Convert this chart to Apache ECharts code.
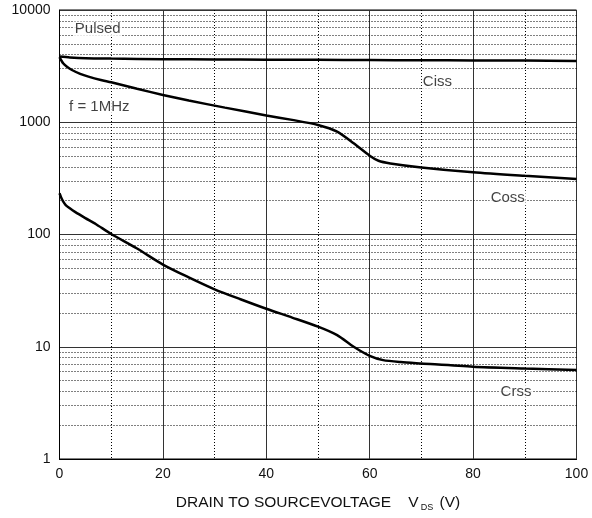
<!DOCTYPE html>
<html><head><meta charset="utf-8">
<script src="https://cdn.jsdelivr.net/npm/echarts@6/dist/echarts.min.js"></script>
<style>html,body{margin:0;padding:0;background:#fff}#c{width:592px;height:518px}</style>
</head><body><div id="c"></div>
<script>
// Data
const cissV = [0, 2, 5, 10, 20, 30, 40, 50, 60, 70, 80, 90, 100];
const cissC = [3850, 3780, 3720, 3690, 3650, 3630, 3610, 3600, 3580, 3570, 3550, 3540, 3520];
const cossV = [0, 0.7, 1.5, 2.4, 4, 5.6, 8, 10, 15, 20, 25, 32, 40, 45, 50, 53.7, 56.9, 60, 61.7, 64, 70, 80, 90, 100];
const cossC = [3800, 3350, 3100, 2920, 2700, 2550, 2380, 2270, 1990, 1750, 1560, 1350, 1150, 1050, 946, 825, 649, 503, 454, 430, 396, 358, 333, 312];
const crssV = [0, 0.3, 0.7, 1.2, 2, 3, 5, 7, 10, 15, 20, 25, 30, 35, 40, 45, 50, 53.7, 56.9, 60, 62.6, 66, 70, 80, 90, 100];
const crssC = [233, 215, 197, 183, 171, 159, 140, 124, 101, 75, 54, 41.5, 32.5, 26.5, 21.8, 18.2, 15.1, 12.7, 10, 8.3, 7.6, 7.3, 7.1, 6.64, 6.4, 6.2];
const yMinorGrid = [2,3,4,5,6,7,8,9,20,30,40,50,60,70,80,90,200,300,400,500,600,700,800,900,2000,3000,4000,5000,6000,7000,8000,9000];
const annText = ['Pulsed', 'f = 1MHz', 'Ciss', 'Coss', 'Crss'];
const annX = [7.4, 7.7, 73.1, 86.7, 88.3];
const annY = [6780, 1368, 2285, 211, 3.95];

const pairs = (xs, ys) => xs.map((x, i) => [x, ys[i]]);
const FONT = 'Liberation Sans, Arial, Helvetica, sans-serif';
const curve = (name, xs, ys) => ({
  name, type: 'line', data: pairs(xs, ys), showSymbol: false, symbol: 'none',
  smooth: 0.25, z: 5, silent: true,
  lineStyle: { color: '#000', width: 2.5 }
});

const chart = echarts.init(document.getElementById('c'), null, { renderer: 'canvas' });
chart.setOption({
  animation: false,
  backgroundColor: '#fff',
  textStyle: { fontFamily: FONT },
  grid: { left: 59.5, right: 15.5, top: 10, bottom: 59, show: true, borderColor: '#000', borderWidth: 1,
          containLabel: false, outerBoundsMode: 'none' },
  xAxis: {
    type: 'value', min: 0, max: 100, interval: 20,
    axisLine: { show: true, lineStyle: { color: '#000', width: 1 } },
    axisTick: { show: false },
    axisLabel: { color: '#111', fontSize: 14, margin: 8, fontFamily: FONT },
    splitLine: { show: true, lineStyle: { color: '#333', width: 1 } },
    minorTick: { show: false, splitNumber: 2 },
    minorSplitLine: { show: true, lineStyle: { color: '#000', width: 1, type: [1, 2] } },
    name: '{a|DRAIN TO SOURCEVOLTAGE    V}{s|DS}{a| (V)}',
    nameLocation: 'middle', nameGap: 34,
    nameTextStyle: {
      color: '#111', fontFamily: FONT,
      rich: {
        a: { fontSize: 15.5, color: '#111', fontFamily: FONT, lineHeight: 20 },
        s: { fontSize: 9, color: '#111', fontFamily: FONT, padding: [9, 2, 0, 2], lineHeight: 20 }
      }
    }
  },
  yAxis: {
    type: 'log', logBase: 10, min: 1, max: 10000,
    axisLine: { show: true, lineStyle: { color: '#000', width: 1 } },
    axisTick: { show: false },
    axisLabel: { color: '#111', fontSize: 14, margin: 9, fontFamily: FONT, formatter: v => String(v) },
    splitLine: { show: true, lineStyle: { color: '#333', width: 1 } },
    minorTick: { show: false },
    minorSplitLine: { show: false },
    name: 'CAPACITANCE       C (pF)',
    nameLocation: 'middle', nameGap: 34,
    nameTextStyle: { color: '#111', fontSize: 15, fontFamily: FONT }
  },
  series: [
    {
      name: 'minorGrid', type: 'line', data: [[0, 1]], symbol: 'none', silent: true, z: 1,
      lineStyle: { opacity: 0 },
      markLine: {
        silent: true, symbol: ['none', 'none'], animation: false,
        label: { show: false },
        lineStyle: { color: '#000', width: 1, type: [1, 2] },
        emphasis: { disabled: true },
        data: yMinorGrid.map(v => ({ yAxis: v }))
      }
    },
    curve('Ciss', cissV, cissC),
    curve('Coss', cossV, cossC),
    curve('Crss', crssV, crssC),
    {
      name: 'labels', type: 'scatter', symbolSize: 1, silent: true, z: 6,
      itemStyle: { color: 'transparent' },
      data: annText.map((t, i) => ({ name: t, value: [annX[i], annY[i]] })),
      label: {
        show: true, position: 'inside', formatter: '{b}', color: '#111',
        fontSize: 15, fontFamily: FONT, backgroundColor: '#fff', padding: [0, 1]
      }
    }
  ]
});
</script>
</body></html>
